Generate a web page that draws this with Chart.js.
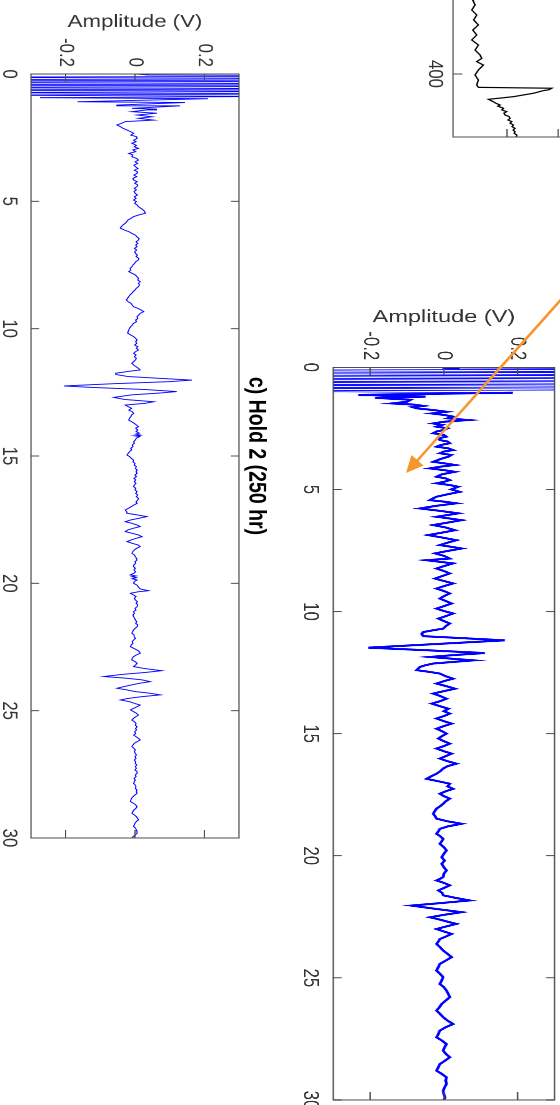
<!DOCTYPE html>
<html>
<head>
<meta charset="utf-8">
<script src="https://cdn.jsdelivr.net/npm/chart.js@4.4.1/dist/chart.umd.min.js"></script>
<style>
html,body{margin:0;padding:0;background:#fff;}
body{width:560px;height:1105px;overflow:hidden;position:relative;}
.panel{position:absolute;left:0;top:0;transform-origin:0 0;}
.panel canvas{display:block;}
#arrow{position:absolute;left:0;top:0;}
</style>
</head>
<body>
<div class="panel" id="panelA"><canvas id="canvasA"></canvas></div>
<div class="panel" id="panelB"><canvas id="canvasB"></canvas></div>
<div class="panel" id="panelC"><canvas id="canvasC"></canvas></div>
<svg id="arrow" width="560" height="1105">
  <line x1="575" y1="284" x2="416" y2="462" stroke="#f7962f" stroke-width="2.6"/>
  <polygon points="406,473 411.5,455 423.5,465.5" fill="#f7962f"/>
</svg>
<script>
// ---------- data ----------
const timeTicks = [0, 5, 10, 15, 20, 25, 30];
const ampTicks = [-0.2, 0, 0.2];
const ampTickLabels = ['-0.2', '0', '0.2'];
const panelCTitle = 'c) Hold 2 (250 hr)';
const ampAxisTitle = 'Amplitude (V)';

// panel c) Hold 2 (250 hr): [time, amplitude V]
const hold2Trace = [
[0,0],[0.04,0.04],
[0.08,0.9],[0.13,-0.8],[0.18,1.0],[0.23,-0.9],[0.28,0.8],[0.33,-1.0],[0.38,0.9],[0.43,-0.8],[0.48,0.9],[0.53,-0.9],[0.58,0.8],[0.63,-0.7],[0.68,0.7],[0.73,-0.6],[0.78,0.6],[0.83,-0.5],[0.88,0.45],
[0.93,-0.274],[0.97,0.211],[1.09,-0.166],[1.12,0.144],[1.22,-0.052],[1.25,0.13],[1.35,-0.009],[1.38,0.063],[1.41,0.034],[1.48,-0.009],[1.54,0.063],[1.61,0.006],[1.68,0.049],[1.74,0.01],[1.81,0.054],[1.87,-0.028],[1.94,-0.04],[2.0,-0.052],[2.07,-0.042],[2.13,-0.035],[2.2,-0.023],[2.27,-0.012],[2.33,-0.004],[2.4,-0.012],[2.46,0.004],[2.53,0.006],[2.6,-0.004],[2.66,0.003],[2.72,-0.009],[2.8,0.004],[2.86,-0.002],[2.92,0.01],[2.98,-0.006],[3.05,0.002],[3.12,-0.018],[3.18,-0.006],[3.25,-0.009],[3.31,0.004],[3.38,0.01],[3.45,0.0],[3.51,0.008],[3.58,-0.003],[3.64,0.001],[3.71,0.009],[3.78,-0.002],[3.84,0.007],[3.9,0.006],[3.97,-0.003],[4.03,0.005],[4.1,-0.006],[4.16,-0.004],[4.23,0.006],[4.29,-0.001],[4.36,0.008],[4.42,0.006],[4.49,-0.002],[4.55,0.004],[4.62,-0.003],[4.69,0.001],[4.75,0.007],[4.82,-0.002],[4.88,0.003],[4.95,-0.004],[5.01,0.004],[5.08,-0.001],[5.14,0.006],[5.21,0.01],[5.3,0.02],[5.38,0.027],[5.47,0.03],[5.53,0.012],[5.6,-0.004],[5.67,-0.012],[5.73,-0.02],[5.8,-0.024],[5.86,-0.028],[5.93,-0.035],[6.0,-0.04],[6.06,-0.042],[6.13,-0.03],[6.19,-0.018],[6.26,-0.009],[6.33,0.002],[6.39,0.005],[6.46,0.012],[6.52,0.01],[6.59,0.003],[6.65,0.008],[6.72,0.002],[6.78,0.006],[6.85,-0.002],[6.91,0.005],[6.98,-0.001],[7.04,0.001],[7.11,0.007],[7.17,0.003],[7.24,0.011],[7.3,0.01],[7.37,0.002],[7.43,-0.001],[7.5,-0.006],[7.57,-0.009],[7.63,-0.014],[7.7,-0.012],[7.76,-0.018],[7.83,-0.008],[7.89,0.001],[7.96,0.006],[8.02,0.01],[8.09,0.008],[8.15,0.015],[8.22,0.01],[8.28,0.013],[8.35,0.01],[8.41,0.004],[8.48,0.0],[8.54,-0.005],[8.61,-0.009],[8.67,-0.014],[8.74,-0.018],[8.8,-0.021],[8.87,-0.025],[8.94,-0.02],[9.0,-0.012],[9.07,-0.008],[9.14,-0.004],[9.2,0.008],[9.27,0.018],[9.33,0.025],[9.4,0.015],[9.47,0.01],[9.53,0.006],[9.6,0.008],[9.66,0.002],[9.73,0.004],[9.79,-0.004],[9.86,-0.008],[9.92,-0.012],[9.99,-0.016],[10.05,-0.018],[10.12,-0.02],[10.18,-0.021],[10.25,-0.012],[10.31,-0.004],[10.38,0.002],[10.45,0.006],[10.51,0.002],[10.58,0.005],[10.64,-0.001],[10.71,0.008],[10.77,0.004],[10.84,0.01],[10.9,0.002],[10.97,-0.004],[11.03,0.003],[11.1,-0.002],[11.17,0.004],[11.23,0.001],[11.3,-0.004],[11.36,-0.009],[11.43,-0.004],[11.5,0.004],[11.56,0.01],[11.62,0.015],[11.68,-0.02],[11.75,-0.056],[11.8,-0.055],[11.88,-0.02],[11.95,0.07],[12.02,0.164],[12.08,0.1],[12.16,-0.06],[12.25,-0.205],[12.31,-0.12],[12.39,0.03],[12.47,0.12],[12.53,0.07],[12.6,-0.01],[12.7,-0.061],[12.78,-0.03],[12.87,0.054],[12.93,0.03],[13.0,-0.028],[13.06,-0.02],[13.13,-0.01],[13.2,-0.018],[13.26,-0.008],[13.33,-0.004],[13.39,-0.01],[13.46,-0.012],[13.52,-0.016],[13.59,-0.018],[13.65,-0.01],[13.72,-0.002],[13.78,0.004],[13.85,0.01],[13.91,0.002],[13.98,0.008],[14.04,0.003],[14.1,0.012],[14.14,0.002],[14.18,0.016],[14.21,0.0],[14.24,0.013],[14.3,0.004],[14.37,0.001],[14.44,-0.004],[14.5,-0.002],[14.57,-0.008],[14.63,-0.006],[14.7,-0.012],[14.76,-0.01],[14.83,-0.016],[14.9,-0.02],[14.96,-0.023],[15.03,-0.015],[15.1,-0.01],[15.16,-0.004],[15.23,-0.006],[15.29,0.0],[15.36,-0.002],[15.42,0.004],[15.49,0.001],[15.55,0.006],[15.62,0.003],[15.68,0.006],[15.75,0.0],[15.81,0.004],[15.88,-0.003],[15.94,0.002],[16.01,-0.002],[16.07,0.003],[16.14,-0.002],[16.2,-0.004],[16.27,0.002],[16.33,0.0],[16.4,0.006],[16.47,0.002],[16.53,0.008],[16.6,0.004],[16.66,0.01],[16.73,0.008],[16.8,0.003],[16.86,0.006],[16.93,-0.004],[17.0,-0.012],[17.06,-0.02],[17.12,-0.028],[17.19,-0.024],[17.25,-0.023],[17.31,0.005],[17.38,0.034],[17.45,0.01],[17.51,-0.012],[17.58,-0.028],[17.64,-0.01],[17.71,0.006],[17.77,0.015],[17.84,-0.005],[17.9,-0.02],[17.97,-0.028],[18.03,-0.01],[18.1,0.01],[18.17,0.02],[18.23,0.004],[18.3,-0.012],[18.36,-0.023],[18.43,-0.008],[18.49,0.008],[18.56,0.015],[18.62,0.005],[18.69,-0.002],[18.75,-0.006],[18.82,-0.009],[18.88,-0.002],[18.95,0.001],[19.01,0.004],[19.08,0.006],[19.15,0.0],[19.21,0.002],[19.28,-0.004],[19.35,-0.004],[19.41,0.001],[19.48,-0.003],[19.55,0.002],[19.61,-0.004],[19.67,-0.014],[19.71,0.003],[19.74,-0.009],[19.78,0.004],[19.82,-0.008],[19.87,0.006],[19.93,-0.002],[20.0,-0.004],[20.07,0.006],[20.15,0.01],[20.22,0.015],[20.29,0.039],[20.33,0.01],[20.39,-0.013],[20.46,-0.004],[20.52,0.003],[20.59,-0.002],[20.65,0.001],[20.72,0.007],[20.78,0.003],[20.85,0.008],[20.92,0.006],[20.98,0.0],[21.05,0.003],[21.11,-0.004],[21.18,-0.002],[21.24,-0.006],[21.31,-0.004],[21.38,-0.001],[21.44,0.001],[21.5,0.005],[21.57,0.002],[21.63,0.008],[21.7,0.006],[21.77,0.0],[21.83,-0.004],[21.9,-0.007],[21.96,-0.009],[22.03,-0.003],[22.1,-0.002],[22.16,0.001],[22.23,-0.004],[22.29,-0.008],[22.36,-0.006],[22.42,-0.011],[22.49,-0.013],[22.55,-0.004],[22.62,0.006],[22.68,0.012],[22.75,0.015],[22.81,0.004],[22.88,-0.004],[22.94,-0.008],[23.01,-0.009],[23.07,0.0],[23.14,0.006],[23.2,0.002],[23.27,-0.004],[23.35,0.03],[23.43,0.077],[23.5,0.03],[23.58,-0.04],[23.66,-0.09],[23.72,-0.03],[23.79,0.02],[23.86,0.044],[23.92,0.015],[23.99,-0.01],[24.05,-0.03],[24.12,-0.052],[24.18,-0.025],[24.25,0.0],[24.31,0.04],[24.38,0.073],[24.45,0.02],[24.52,-0.02],[24.58,-0.042],[24.65,-0.015],[24.72,0.0],[24.78,0.015],[24.85,0.005],[24.91,-0.004],[24.97,-0.013],[25.04,-0.004],[25.1,0.004],[25.17,0.01],[25.24,0.002],[25.3,-0.004],[25.37,-0.009],[25.43,-0.002],[25.5,0.003],[25.57,0.001],[25.63,0.006],[25.7,0.002],[25.76,0.004],[25.83,-0.001],[25.9,0.002],[25.96,-0.004],[26.03,0.004],[26.09,0.01],[26.15,0.015],[26.22,0.006],[26.28,-0.002],[26.35,-0.006],[26.41,-0.009],[26.48,-0.003],[26.54,0.001],[26.61,-0.002],[26.68,0.001],[26.74,0.004],[26.81,0.0],[26.87,0.003],[26.94,-0.002],[27.0,0.002],[27.07,0.001],[27.13,0.005],[27.2,0.001],[27.26,0.004],[27.33,0.0],[27.39,0.006],[27.46,0.006],[27.52,0.001],[27.59,0.003],[27.66,-0.003],[27.72,0.001],[27.79,-0.002],[27.86,-0.004],[27.92,0.001],[27.99,0.003],[28.05,0.001],[28.12,0.006],[28.18,0.004],[28.25,0.006],[28.31,0.0],[28.38,-0.006],[28.44,-0.01],[28.51,-0.012],[28.57,-0.013],[28.64,-0.004],[28.7,0.002],[28.77,0.006],[28.83,0.003],[28.9,-0.003],[28.96,-0.006],[29.03,-0.009],[29.09,-0.002],[29.16,0.004],[29.22,0.007],[29.29,0.01],[29.35,0.004],[29.42,0.0],[29.48,-0.002],[29.55,-0.004],[29.61,0.001],[29.68,0.004],[29.75,0.006],[29.82,0.006],[29.88,0.0],[29.94,-0.005],[30.0,-0.009]
];

// panel b) (right, thick trace): [time, amplitude V]
const panelBTrace = [
[0,0],[0.03,0.043],
[0.07,1],[0.13,-1],[0.19,1],[0.25,-1],[0.31,1],[0.37,-1],[0.43,1],[0.49,-1],[0.55,1],[0.61,-1],[0.67,1],[0.73,-1],[0.79,1],[0.85,-1],[0.91,1],[0.97,-0.8],
[1.04,0.187],[1.13,-0.232],[1.2,-0.05],[1.25,-0.187],[1.33,-0.09],[1.41,-0.1],[1.48,-0.141],[1.53,-0.08],[1.58,-0.056],[1.63,-0.085],[1.68,-0.074],[1.75,-0.029],[1.82,0.007],[1.89,-0.033],[1.95,0.0],[2.02,0.025],[2.09,0.01],[2.16,0.066],[2.23,0.0],[2.3,-0.029],[2.36,-0.005],[2.43,-0.02],[2.5,0.01],[2.57,-0.002],[2.63,-0.02],[2.7,-0.029],[2.77,0.0],[2.84,0.007],[2.91,-0.015],[2.98,-0.011],[3.04,0.01],[3.11,0.016],[3.18,-0.008],[3.25,-0.02],[3.32,0.012],[3.39,0.025],[3.45,0.0],[3.52,-0.011],[3.59,0.02],[3.66,0.012],[3.76,-0.01],[3.87,-0.029],[3.93,0.0],[4.0,0.03],[4.07,-0.01],[4.14,-0.038],[4.21,0.0],[4.28,0.03],[4.38,-0.005],[4.48,-0.02],[4.55,0.005],[4.62,0.016],[4.69,0.0],[4.75,-0.02],[4.82,0.015],[4.89,0.039],[5.0,0.02],[5.1,0.043],[5.2,0.01],[5.3,-0.02],[5.37,-0.03],[5.44,-0.038],[5.5,0.0],[5.57,0.034],[5.67,-0.02],[5.78,-0.065],[5.88,-0.01],[5.98,0.039],[6.05,0.01],[6.12,-0.02],[6.19,0.015],[6.26,0.048],[6.36,0.01],[6.46,-0.029],[6.56,0.005],[6.67,0.03],[6.77,-0.005],[6.87,-0.043],[6.97,-0.005],[7.08,0.034],[7.18,0.01],[7.28,-0.011],[7.35,0.02],[7.42,0.048],[7.52,0.01],[7.62,-0.024],[7.72,0.0],[7.83,0.016],[7.9,-0.047],[8.03,0.025],[8.14,0.0],[8.24,-0.02],[8.34,0.0],[8.44,0.016],[8.55,-0.005],[8.65,-0.024],[8.75,0.0],[8.85,0.025],[8.96,0.0],[9.06,-0.02],[9.16,0.0],[9.26,0.016],[9.37,0.0],[9.47,-0.011],[9.57,0.005],[9.67,0.021],[9.78,0.0],[9.88,-0.02],[9.98,0.0],[10.08,0.025],[10.19,0.005],[10.29,-0.015],[10.39,0.0],[10.49,0.016],[10.6,0.005],[10.7,-0.002],[10.77,-0.03],[10.84,-0.056],[10.92,-0.06],[11.01,-0.056],[11.09,0.05],[11.18,0.165],[11.33,-0.02],[11.48,-0.205],[11.59,-0.04],[11.7,0.111],[11.78,0.03],[11.86,-0.038],[11.93,0.02],[12.0,0.08],[12.07,0.02],[12.13,-0.029],[12.2,-0.05],[12.27,-0.065],[12.34,-0.07],[12.4,-0.074],[12.47,-0.04],[12.54,-0.011],[12.65,0.005],[12.75,0.025],[12.85,0.0],[12.95,-0.02],[13.05,0.005],[13.16,0.03],[13.26,0.0],[13.36,-0.029],[13.46,-0.01],[13.57,0.007],[13.67,-0.01],[13.77,-0.033],[13.88,-0.01],[13.98,0.012],[14.08,0.0],[14.18,0.016],[14.28,0.0],[14.38,-0.02],[14.49,0.0],[14.59,0.021],[14.69,0.0],[14.8,-0.02],[14.9,-0.005],[15.0,0.007],[15.1,-0.005],[15.2,-0.015],[15.31,0.0],[15.41,0.016],[15.51,0.0],[15.61,-0.02],[15.72,0.0],[15.82,0.021],[15.92,0.005],[16.02,-0.011],[16.13,0.01],[16.23,0.034],[16.33,0.01],[16.43,-0.002],[16.54,-0.01],[16.64,-0.02],[16.75,-0.035],[16.85,-0.047],[16.95,-0.015],[17.05,0.016],[17.16,0.01],[17.26,0.025],[17.36,0.005],[17.46,-0.011],[17.56,0.0],[17.66,0.016],[17.77,0.005],[17.87,-0.002],[17.97,-0.01],[18.07,-0.02],[18.18,-0.025],[18.28,-0.029],[18.38,-0.024],[18.48,-0.02],[18.59,0.01],[18.69,0.048],[18.8,0.01],[18.9,-0.011],[19.0,-0.015],[19.1,-0.02],[19.2,-0.01],[19.31,-0.002],[19.41,-0.006],[19.51,-0.011],[19.65,0.0],[19.78,0.007],[19.92,0.0],[20.06,-0.006],[20.2,0.002],[20.33,-0.006],[20.47,0.0],[20.6,0.007],[20.73,0.0],[20.87,-0.002],[20.94,-0.01],[21.01,-0.02],[21.11,0.0],[21.21,0.016],[21.32,0.0],[21.42,-0.015],[21.52,-0.005],[21.62,-0.002],[21.72,0.03],[21.83,0.07],[21.94,-0.01],[22.04,-0.088],[22.18,-0.02],[22.31,0.048],[22.42,0.0],[22.52,-0.038],[22.58,-0.02],[22.65,-0.002],[22.72,0.015],[22.79,0.034],[22.9,0.005],[23.0,-0.02],[23.1,0.0],[23.2,0.021],[23.31,0.005],[23.41,-0.011],[23.51,-0.015],[23.61,-0.02],[23.75,-0.01],[23.88,-0.002],[24.02,0.01],[24.15,0.021],[24.29,0.005],[24.43,-0.011],[24.56,-0.015],[24.7,-0.02],[24.84,-0.01],[24.97,-0.002],[25.11,-0.006],[25.25,-0.011],[25.38,0.0],[25.52,0.007],[25.66,0.012],[25.79,0.016],[25.93,0.005],[26.07,-0.006],[26.2,-0.012],[26.34,-0.02],[26.48,-0.01],[26.61,-0.002],[26.75,0.01],[26.89,0.025],[27.02,0.005],[27.16,-0.011],[27.3,-0.015],[27.43,-0.02],[27.57,-0.005],[27.71,0.007],[27.84,0.002],[27.98,-0.002],[28.12,0.006],[28.25,0.016],[28.39,0.003],[28.53,-0.011],[28.66,-0.015],[28.8,-0.02],[28.93,-0.006],[29.07,0.007],[29.2,0.005],[29.34,0.007],[29.48,0.002],[29.62,-0.002],[29.76,0.0],[29.9,0.003],[30.0,0.0]
];

// panel a) (top, partly visible black trace): [time, amplitude]
const panelATimeTicks = [400];
const panelAAmpTicks = [-0.5, 0];
const panelATrace = [
[330,-0.8],[334,-0.83],[338,-0.79],[341.3,-0.836],[345.2,-0.814],[349.2,-0.846],[353.2,-0.797],[357.1,-0.827],[361.1,-0.781],[365.1,-0.836],[369.0,-0.797],[373.0,-0.846],[377.0,-0.781],[381.0,-0.814],[384.9,-0.765],[387.6,-0.748],[390.2,-0.797],[392.9,-0.732],[396.8,-0.781],[400.8,-0.814],[404.8,-0.781],[408.7,-0.797],[410.6,-0.781],[411.3,-0.062],[412.5,-0.09],[413.2,-0.144],[415.3,-0.242],[418.0,-0.438],[420.1,-0.683],[421.0,-0.66],[422.0,-0.634],[423.2,-0.61],[424.6,-0.569],[425.5,-0.59],[427.2,-0.536],[428.5,-0.55],[429.9,-0.503],[431,-0.53],[432.5,-0.52],[433.8,-0.48],[435.2,-0.471],[436.5,-0.49],[437.8,-0.454],[439,-0.47],[440.5,-0.438],[441.8,-0.45],[443.1,-0.422],[444.5,-0.44],[445.8,-0.422],[447,-0.43],[448.4,-0.405],[450,-0.41]
];

// ---------- rendering ----------
const FAMILY = "'Liberation Sans', Arial, Helvetica, sans-serif";
Chart.defaults.font.family = FAMILY;
const AXIS_COLOR = '#4d4d4d';
const TEXT_COLOR = '#333333';

const framePlugin = {
  id: 'frame',
  afterDraw(chart, args, o) {
    const {ctx, chartArea: a} = chart;
    const xs = chart.scales.x, ys = chart.scales.y;
    ctx.save();
    ctx.strokeStyle = AXIS_COLOR;
    ctx.lineWidth = 1;
    ctx.strokeRect(a.left, a.top, a.right - a.left, a.bottom - a.top);
    ctx.beginPath();
    xs.ticks.forEach(t => {
      const p = xs.getPixelForValue(t.value);
      ctx.moveTo(p, a.bottom); ctx.lineTo(p, a.bottom - o.xTick);
      ctx.moveTo(p, a.top); ctx.lineTo(p, a.top + o.xTick);
    });
    ys.ticks.forEach(t => {
      const p = ys.getPixelForValue(t.value);
      ctx.moveTo(a.left, p); ctx.lineTo(a.left + o.yTick, p);
      ctx.moveTo(a.right, p); ctx.lineTo(a.right - o.yTick, p);
    });
    ctx.stroke();
    if (o.title) {
      ctx.font = 'bold ' + o.titleSize + 'px ' + FAMILY;
      ctx.fillStyle = '#000';
      ctx.textAlign = 'center';
      ctx.textBaseline = 'middle';
      ctx.fillText(o.title, (a.left + a.right) / 2, o.titleY);
    }
    ctx.restore();
  }
};

function makePanel(p) {
  const div = document.getElementById(p.div);
  const cv = document.getElementById(p.canvas);
  div.style.width = p.W + 'px';
  div.style.height = p.H + 'px';
  div.style.transform = `translate(${p.X0 + p.s * p.H}px, ${p.Y0}px) rotate(90deg) scale(1, ${p.s})`;
  cv.width = p.W; cv.height = p.H;
  const clipAmp = p.yMax;
  return new Chart(cv, {
    type: 'line',
    data: {
      datasets: [{
        data: p.trace.map(d => ({x: d[0], y: d[1]})),
        borderColor: p.color,
        borderWidth: p.lineWidth,
        pointRadius: 0,
        tension: 0,
        fill: false,
        clip: 0,
        segment: {
          borderWidth: c => (Math.abs(c.p0.parsed.y) > clipAmp || Math.abs(c.p1.parsed.y) > clipAmp) ? p.satWidth : p.lineWidth
        }
      }]
    },
    options: {
      responsive: false,
      animation: false,
      devicePixelRatio: 2,
      events: [],
      layout: {padding: {left: 0, right: p.padRight, top: p.padTop, bottom: 0}},
      plugins: {
        legend: {display: false},
        tooltip: {enabled: false},
        frame: {xTick: p.xTick, yTick: p.yTick, title: p.title, titleY: p.titleY, titleSize: 19.5}
      },
      scales: {
        x: {
          type: 'linear', min: p.xMin, max: p.xMax,
          afterBuildTicks: s => { s.ticks = p.xTicks.map(v => ({value: v})); },
          afterFit: s => { s.height = p.xH; },
          grid: {display: false, drawTicks: false}, border: {display: false},
          ticks: {font: {size: 16.8}, color: TEXT_COLOR, padding: p.xPad, maxRotation: 0, minRotation: 0, autoSkip: false,
                  callback: v => String(v)}
        },
        y: {
          type: 'linear', min: p.yMin, max: p.yMax,
          afterBuildTicks: s => { s.ticks = p.yTicks.map(v => ({value: v})); },
          afterFit: s => { s.width = 74; },
          grid: {display: false, drawTicks: false}, border: {display: false},
          ticks: {display: p.yLabels, font: {size: 16.8}, color: TEXT_COLOR, padding: 7, autoSkip: false,
                  callback: v => { const i = ampTicks.indexOf(v); return i >= 0 ? ampTickLabels[i] : String(v); }},
          title: {display: p.yTitle, text: ampAxisTitle, color: TEXT_COLOR, font: {size: 17.8},
                  padding: {top: p.yTitlePad, bottom: 0}}
        }
      }
    },
    plugins: [framePlugin]
  });
}

// c) Hold 2 (left)
makePanel({div: 'panelC', canvas: 'canvasC', W: 880, H: 224, s: 1.25, X0: 0, Y0: 0,
  padTop: 32.8, padRight: 42, xH: 24.8, xPad: 7.4, yTitlePad: 11.5, yTitle: true, yLabels: true,
  xMin: 0, xMax: 30, xTicks: timeTicks, yMin: -0.3, yMax: 0.3, yTicks: ampTicks,
  xTick: 6.4, yTick: 8, title: panelCTitle, titleY: 19.2,
  trace: hold2Trace, color: '#0000ff', lineWidth: 0.9, satWidth: 0.8});

// b) right panel
makePanel({div: 'panelB', canvas: 'canvasB', W: 840, H: 224, s: 1.325, X0: 301.2, Y0: 293.3,
  padTop: 32.8, padRight: 33.3, xH: 24.2, xPad: 7.4, yTitlePad: 13.2, yTitle: true, yLabels: true,
  xMin: 0, xMax: 30, xTicks: timeTicks, yMin: -0.3, yMax: 0.3, yTicks: ampTicks,
  xTick: 6.4, yTick: 8, title: null, titleY: 0,
  trace: panelBTrace, color: '#0000ff', lineWidth: 2.1, satWidth: 0.8});

// a) top panel (partly visible)
makePanel({div: 'panelA', canvas: 'canvasA', W: 430, H: 224, s: 1.25, X0: 422, Y0: -252,
  padTop: 32.8, padRight: 41, xH: 24.8, xPad: 4.6, yTitlePad: 0, yTitle: false, yLabels: false,
  xMin: 200, xMax: 450, xTicks: panelATimeTicks, yMin: -1.03, yMax: 1.01, yTicks: panelAAmpTicks,
  xTick: 7.5, yTick: 8, title: null, titleY: 0,
  trace: panelATrace, color: '#000000', lineWidth: 1.2, satWidth: 1.2});
</script>
</body>
</html>
